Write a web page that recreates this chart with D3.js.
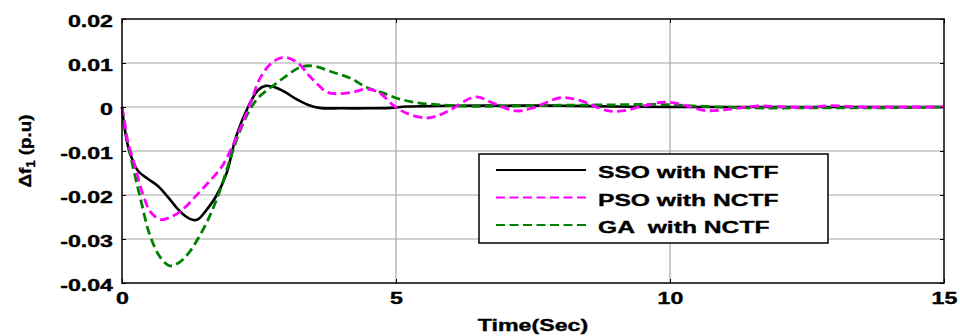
<!DOCTYPE html>
<html>
<head>
<meta charset="utf-8">
<script src="https://cdn.jsdelivr.net/npm/d3@7"></script>
<style>
  html, body { margin: 0; padding: 0; background: #fff; }
  svg { display: block; font-family: "Liberation Sans", Arial, sans-serif; font-weight: bold; }
  svg text { stroke: #000; stroke-width: 0.35px; }
</style>
</head>
<body>
<div id="chart"></div>
<script>
// values
const xTicks = [0, 5, 10, 15];
const yTicks = [0.02, 0.01, 0, -0.01, -0.02, -0.03, -0.04];
const yTickLabels = ['0.02', '0.01', '0', '-0.01', '-0.02', '-0.03', '-0.04'];
const seriesNames = ['SSO with NCTF', 'PSO with NCTF', 'GA  with NCTF'];

const ssoT = [0, 0.05, 0.13, 0.29, 0.47, 0.66, 0.84, 1.02, 1.18, 1.3, 1.4, 1.53, 1.73, 1.91, 2.08, 2.3, 2.48, 2.62, 2.79, 3.0, 3.15, 3.39, 3.6, 4.0, 4.5, 4.9, 5.2, 6.0, 7.0, 8.0, 9.0, 10, 11, 12, 13, 14, 15];
const ssoV = [0, -0.005, -0.0098, -0.0145, -0.0163, -0.018, -0.0205, -0.0232, -0.025, -0.0257, -0.0254, -0.0236, -0.02, -0.015, -0.0068, 0, 0.0038, 0.0048, 0.0045, 0.0032, 0.002, 0.0005, -0.0002, -0.0003, -0.0003, -0.0002, 0.0001, 0.0003, 0.0003, 0.0003, 0.0001, 0, 0, 0, 0, 0, 0];

const psoT = [0, 0.05, 0.1, 0.24, 0.38, 0.53, 0.71, 0.89, 1.1, 1.35, 1.58, 1.82, 2.0, 2.17, 2.35, 2.53, 2.75, 2.97, 3.21, 3.44, 3.74, 3.92, 4.21, 4.46, 4.7, 4.94, 5.19, 5.55, 5.8, 6.0, 6.45, 6.8, 7.2, 7.5, 8.0, 8.35, 8.85, 9.13, 9.5, 9.9, 10.24, 10.64, 11.1, 11.55, 12.0, 12.5, 12.9, 13.5, 14, 15];
const psoV = [0, -0.0035, -0.0075, -0.0136, -0.0198, -0.024, -0.0256, -0.025, -0.0234, -0.0202, -0.0171, -0.0136, -0.0093, -0.0045, 0.0011, 0.0068, 0.0102, 0.0113, 0.0100, 0.0068, 0.0034, 0.003, 0.0034, 0.0041, 0.0032, 0.0005, -0.0014, -0.0025, -0.0018, -0.0006, 0.0023, 0.0007, -0.0009, -0.0002, 0.0021, 0.0015, -0.0008, -0.0009, 0.0002, 0.0011, 0.0005, -0.0008, -0.0005, 0.0002, 0.0001, -0.0001, 0.0003, 0, 0, 0];

const gaT = [0, 0.07, 0.2, 0.35, 0.5, 0.69, 0.87, 1.06, 1.24, 1.42, 1.6, 1.79, 1.97, 2.11, 2.3, 2.48, 2.72, 2.97, 3.26, 3.5, 3.85, 4.16, 4.46, 4.76, 5.07, 5.43, 5.8, 6.2, 7.0, 8.0, 9.0, 9.8, 10.5, 11.5, 12.5, 13.5, 14.5, 15];
const gaV = [0, -0.006, -0.0136, -0.0215, -0.0288, -0.034, -0.0361, -0.0352, -0.0328, -0.0292, -0.0248, -0.0189, -0.012, -0.0068, -0.0014, 0.002, 0.0045, 0.0068, 0.0091, 0.0093, 0.0079, 0.0066, 0.0045, 0.0032, 0.0018, 0.0009, 0.0005, 0.0002, 0.0002, 0.0004, 0.0005, 0.0006, 0.0002, -0.0002, -0.0002, -0.0002, -0.0001, 0];

const W = 960, H = 336;
const margin = { top: 19, right: 16, bottom: 53, left: 122 };
const SX = 1.45; // the figure is stretched horizontally

const svg = d3.select('#chart').append('svg').attr('width', W).attr('height', H);

const x = d3.scaleLinear().domain([0, 15]).range([margin.left, W - margin.right]);
const y = d3.scaleLinear().domain([-0.04, 0.02]).range([H - margin.bottom, margin.top]);

function stretchText(sel) {
    sel.each(function() {
        const t = d3.select(this);
        const tx = +t.attr('x') || 0, ty = +t.attr('y') || 0;
        t.attr('x', 0).attr('y', 0).attr('transform', `translate(${tx},${ty}) scale(${SX},1)`);
    });
}

// grid
const grid = svg.append('g').attr('stroke', '#a6a6a6').attr('stroke-width', 1.2);
grid.selectAll('line.gy').data(yTicks.slice(1, -1)).enter().append('line')
    .attr('x1', x(0)).attr('x2', x(15)).attr('y1', d => y(d)).attr('y2', d => y(d));
grid.selectAll('line.gx').data(xTicks.slice(1, -1)).enter().append('line')
    .attr('y1', y(0.02)).attr('y2', y(-0.04)).attr('x1', d => x(d)).attr('x2', d => x(d));

// series
const line = d3.line().x(d => x(d[0])).y(d => y(d[1])).curve(d3.curveCatmullRom.alpha(0.5));
const series = [
    { name: seriesNames[0], pts: d3.zip(ssoT, ssoV), color: '#000000', dash: null, w: 2.6 },
    { name: seriesNames[1], pts: d3.zip(psoT, psoV), color: '#ff00ff', dash: '9,4.5', w: 2.8 },
    { name: seriesNames[2], pts: d3.zip(gaT, gaV), color: '#008000', dash: '9,4.5', w: 2.8 }
];
const plot = svg.append('g');
[series[0], series[2], series[1]].forEach(s => {
    plot.append('path').attr('d', line(s.pts)).attr('fill', 'none')
        .attr('stroke', s.color).attr('stroke-width', s.w)
        .attr('stroke-dasharray', s.dash).attr('stroke-linejoin', 'round');
});

// axes, ticks pointing inwards like matlab
const fmtY = d => yTickLabels[yTicks.indexOf(d)];
const gx = svg.append('g').attr('transform', `translate(0,${y(-0.04)})`)
    .call(d3.axisBottom(x).tickValues(xTicks).tickSizeInner(-4).tickSizeOuter(0).tickPadding(10).tickFormat(d3.format('d')));
const gy = svg.append('g').attr('transform', `translate(${x(0)},0)`)
    .call(d3.axisLeft(y).tickValues(yTicks).tickSizeInner(-4).tickSizeOuter(0).tickPadding(9).tickFormat(fmtY));
svg.append('g').attr('transform', `translate(0,${y(0.02)})`)
    .call(d3.axisTop(x).tickValues(xTicks).tickSizeInner(-4).tickSizeOuter(0).tickFormat(''));
svg.append('g').attr('transform', `translate(${x(15)},0)`)
    .call(d3.axisRight(y).tickValues(yTicks).tickSizeInner(-4).tickSizeOuter(0).tickFormat(''));
svg.selectAll('.domain').remove();
svg.selectAll('.tick line').attr('stroke', '#000').attr('stroke-width', 1);
[gx, gy].forEach(g => g.selectAll('.tick text')
    .attr('fill', '#000').style('font-size', '16px').style('font-weight', 'bold')
    .style('font-family', '"Liberation Sans", Arial, sans-serif'));
gy.selectAll('.tick text').attr('dy', '0.45em');
stretchText(gx.selectAll('.tick text'));
stretchText(gy.selectAll('.tick text'));

svg.append('rect').attr('x', x(0)).attr('y', y(0.02))
    .attr('width', x(15) - x(0)).attr('height', y(-0.04) - y(0.02))
    .attr('fill', 'none').attr('stroke', '#000').attr('stroke-width', 1.5);

// axis labels
svg.append('text').attr('transform', `translate(${(x(0) + x(15)) / 2},331) scale(${SX},1)`)
    .attr('text-anchor', 'middle').style('font-size', '16px').text('Time(Sec)');

const yl = svg.append('text').attr('transform', 'translate(31,151) rotate(-90)')
    .attr('text-anchor', 'middle').style('font-size', '17px')
    .attr('textLength', 73).attr('lengthAdjust', 'spacingAndGlyphs');
yl.append('tspan').text('\u0394f');
yl.append('tspan').attr('dy', 4).style('font-size', '12px').text('1');
yl.append('tspan').attr('dy', -4).text(' (p.u)');

// legend
const lg = svg.append('g');
lg.append('rect').attr('x', 479).attr('y', 154).attr('width', 349).attr('height', 89)
    .attr('fill', '#fff').attr('stroke', '#000').attr('stroke-width', 1.5);
series.forEach((s, i) => {
    const ly = 170 + i * 27.5;
    lg.append('line').attr('x1', 496).attr('x2', 586).attr('y1', ly).attr('y2', ly)
        .attr('stroke', s.color).attr('stroke-width', 2.2).attr('stroke-dasharray', s.dash);
    lg.append('text').attr('transform', `translate(598,${ly + 8}) scale(${SX},1)`)
        .style('font-size', '17px').style('white-space', 'pre').attr('xml:space', 'preserve').text(s.name);
});
</script>
</body>
</html>
